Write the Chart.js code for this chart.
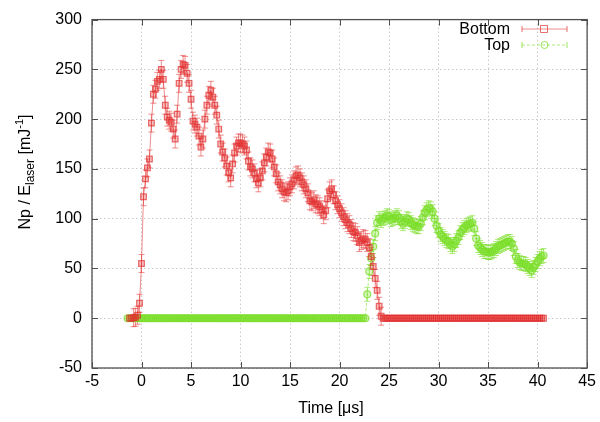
<!DOCTYPE html>
<html>
<head>
<meta charset="utf-8">
<script src="https://cdn.jsdelivr.net/npm/chart.js@4.4.1/dist/chart.umd.min.js"></script>
<style>
  body { margin: 0; background: #fff; }
  #wrap { width: 600px; height: 422px; }
</style>
</head>
<body>
<div id="wrap"><canvas id="np-canvas" width="600" height="422"></canvas></div>
<script>
// sampling of the time axis (us)
var timeStart = -1.4;
var timeStep = 0.2;

// Np / E_laser, one value per time sample
var bottomNp = [
    null, 0, 0, 0.5, 1, 3, 15, 55, 122, 140,
    151, 160, 196, 225, 230, 238, 240, 250, 240, 214,
    202, 199, 197, 190, 180, 205, 236, 250, 255, 254,
    246, 236, 220, 198, 195, 192, 183, 172, 180, 200,
    214, 224, 229, 222, 214, 204, 190, 175, 167, 161,
    153, 146, 141, 155, 166, 173, 176, 176, 175, 173,
    169, 158, 152, 150, 146, 140, 136, 141, 148, 156,
    162, 167, 166, 160, 152, 145, 137, 134, 130, 127,
    126, 128, 132, 135, 139, 143, 144, 141, 137, 134,
    130, 126, 118, 117, 119, 115, 114, 112, 109, 104,
    108, 120, 128, 130, 124, 118, 114, 110, 106, 102,
    99, 96, 94, 90, 87, 86, 83, 76, 78, 80,
    79, 76, 71, 62, 52, 40, 28, 12, 2, 0,
    0, 0, 0, 0, 0, 0, 0, 0, 0, 0,
    0, 0, 0, 0, 0, 0, 0, 0, 0, 0,
    0, 0, 0, 0, 0, 0, 0, 0, 0, 0,
    0, 0, 0, 0, 0, 0, 0, 0, 0, 0,
    0, 0, 0, 0, 0, 0, 0, 0, 0, 0,
    0, 0, 0, 0, 0, 0, 0, 0, 0, 0,
    0, 0, 0, 0, 0, 0, 0, 0, 0, 0,
    0, 0, 0, 0, 0, 0, 0, 0, 0, 0,
    0
];
var topNp = [
    0, 0, 0, 0, 0, 0, 0, 0, 0, 0,
    0, 0, 0, 0, 0, 0, 0, 0, 0, 0,
    0, 0, 0, 0, 0, 0, 0, 0, 0, 0,
    0, 0, 0, 0, 0, 0, 0, 0, 0, 0,
    0, 0, 0, 0, 0, 0, 0, 0, 0, 0,
    0, 0, 0, 0, 0, 0, 0, 0, 0, 0,
    0, 0, 0, 0, 0, 0, 0, 0, 0, 0,
    0, 0, 0, 0, 0, 0, 0, 0, 0, 0,
    0, 0, 0, 0, 0, 0, 0, 0, 0, 0,
    0, 0, 0, 0, 0, 0, 0, 0, 0, 0,
    0, 0, 0, 0, 0, 0, 0, 0, 0, 0,
    0, 0, 0, 0, 0, 0, 0, 0, 0, 0,
    0,
    24, 47, 60, 72, 85, 96, 100, 98, 100, 101,
    103, 102, 99, 100, 101, 103, 101, 97, 95, 97,
    100, 99, 96, 94, 93, 92, 92, 95, 101, 106,
    109, 111, 110, 107, 100, 93, 88, 84, 82, 80,
    78, 77, 74, 72, 74, 78, 81, 86, 89, 91,
    93, 94, 95, 96, 90, 80, 73, 71, 69, 67,
    67, 66, 66, 67, 68, 70, 72, 73, 74, 75,
    76, 77, 77, 75, 70, 62, 58, 56, 55, 55,
    54, 52, 50, 48, 51, 54, 57, 60, 62, 63
];
var bottomErr = 9;
var topErr = 7;

var xTicks = [-5, 0, 5, 10, 15, 20, 25, 30, 35, 40, 45];
var yTicks = [-50, 0, 50, 100, 150, 200, 250, 300];
var seriesNames = ['Bottom', 'Top'];

var RED = 'rgba(226, 48, 48, 0.7)';
var RED_FILL = 'rgba(226, 48, 48, 0.3)';
var RED_LINE = 'rgba(226, 48, 48, 0.55)';
var GREEN = 'rgba(120, 222, 36, 0.75)';
var GREEN_FILL = 'rgba(120, 222, 36, 0.3)';
var GREEN_LINE = 'rgba(120, 222, 36, 0.6)';
var FONT = '"Liberation Sans", Arial, Helvetica, sans-serif';

function toPoints(values) {
    var pts = [];
    for (var i = 0; i < values.length; i++) {
        if (values[i] === null) continue;
        pts.push({ x: +(timeStart + i * timeStep).toFixed(2), y: values[i] });
    }
    return pts;
}

var errors = [bottomErr, topErr];

// gnuplot-ish frame, error bars, legend and axis titles
var gnuplotBits = {
    id: 'gnuplotBits',
    beforeDatasetsDraw: function (chart) {
        var ctx = chart.ctx;
        var xs = chart.scales.x, ys = chart.scales.y;
        chart.data.datasets.forEach(function (ds, k) {
            var e = errors[k];
            ctx.save();
            ctx.strokeStyle = ds.borderColor;
            ctx.lineWidth = 1;
            ctx.beginPath();
            ds.data.forEach(function (p) {
                if (p.y <= 0) return;
                var px = xs.getPixelForValue(p.x);
                var y1 = ys.getPixelForValue(p.y + e);
                var y2 = ys.getPixelForValue(p.y - e);
                ctx.moveTo(px, y1); ctx.lineTo(px, y2);
                ctx.moveTo(px - 3, y1); ctx.lineTo(px + 3, y1);
                ctx.moveTo(px - 3, y2); ctx.lineTo(px + 3, y2);
            });
            ctx.stroke();
            ctx.restore();
        });
    },
    afterDraw: function (chart) {
        var ctx = chart.ctx;
        var a = chart.chartArea;
        var xs = chart.scales.x, ys = chart.scales.y;
        ctx.save();

        // frame
        ctx.strokeStyle = '#505050';
        ctx.lineWidth = 1.3;
        ctx.strokeRect(a.left, a.top, a.right - a.left, a.bottom - a.top);

        // inward tick marks on all four sides
        ctx.lineWidth = 1;
        ctx.beginPath();
        xTicks.forEach(function (v) {
            var px = Math.round(xs.getPixelForValue(v)) + 0.5;
            ctx.moveTo(px, a.bottom); ctx.lineTo(px, a.bottom - 6);
            ctx.moveTo(px, a.top); ctx.lineTo(px, a.top + 6);
        });
        yTicks.forEach(function (v) {
            var py = Math.round(ys.getPixelForValue(v)) + 0.5;
            ctx.moveTo(a.left, py); ctx.lineTo(a.left + 6, py);
            ctx.moveTo(a.right, py); ctx.lineTo(a.right - 6, py);
        });
        ctx.stroke();

        // legend
        ctx.font = '16px ' + FONT;
        ctx.textAlign = 'right';
        ctx.textBaseline = 'middle';
        var rows = [
            { y: 29, color: RED, line: RED_LINE, dash: [], shape: 'rect' },
            { y: 45, color: GREEN, line: GREEN_LINE, dash: [3, 2], shape: 'circle' }
        ];
        rows.forEach(function (r, i) {
            ctx.fillStyle = '#000';
            ctx.fillText(seriesNames[i], 510, r.y + 1);
            ctx.strokeStyle = r.line;
            ctx.lineWidth = 1;
            ctx.setLineDash(r.dash);
            ctx.beginPath();
            ctx.moveTo(522, r.y); ctx.lineTo(567, r.y);
            ctx.stroke();
            ctx.setLineDash([]);
            ctx.strokeStyle = r.color;
            ctx.beginPath();
            ctx.moveTo(522, r.y - 3); ctx.lineTo(522, r.y + 3);
            ctx.moveTo(567, r.y - 3); ctx.lineTo(567, r.y + 3);
            if (r.shape === 'rect') {
                ctx.rect(540.5, r.y - 3.5, 7, 7);
            } else {
                ctx.moveTo(548, r.y);
                ctx.arc(544.5, r.y, 3.5, 0, Math.PI * 2);
            }
            ctx.stroke();
        });

        // x title
        ctx.fillStyle = '#000';
        ctx.textAlign = 'center';
        ctx.textBaseline = 'middle';
        ctx.font = '16px ' + FONT;
        ctx.fillText('Time [\u03bcs]', 331, 409);

        // y title with sub/superscript
        var parts = [
            { t: 'Np / E', s: 16, dy: 0 },
            { t: 'laser', s: 12, dy: 4 },
            { t: ' [mJ', s: 16, dy: 0 },
            { t: '-1', s: 11, dy: -7 },
            { t: ']', s: 16, dy: 0 }
        ];
        var total = 0;
        parts.forEach(function (p) {
            ctx.font = p.s + 'px ' + FONT;
            p.w = ctx.measureText(p.t).width;
            total += p.w;
        });
        ctx.translate(30, 172);
        ctx.rotate(-Math.PI / 2);
        ctx.textAlign = 'left';
        ctx.textBaseline = 'alphabetic';
        var cx = -total / 2;
        parts.forEach(function (p) {
            ctx.font = p.s + 'px ' + FONT;
            ctx.fillText(p.t, cx, p.dy);
            cx += p.w;
        });
        ctx.restore();
    }
};

var ctx = document.getElementById('np-canvas');

var npChart = new Chart(ctx, {
    type: 'line',
    data: {
        datasets: [
            {
                label: seriesNames[0],
                data: toPoints(bottomNp),
                borderColor: RED_LINE,
                borderWidth: 1,
                pointStyle: 'rect',
                pointRadius: 4,
                pointBorderColor: RED,
                pointBackgroundColor: RED_FILL,
                pointBorderWidth: 1.2,
                fill: false,
                tension: 0
            },
            {
                label: seriesNames[1],
                data: toPoints(topNp),
                borderColor: GREEN_LINE,
                borderWidth: 1,
                borderDash: [3, 2],
                pointStyle: 'circle',
                pointRadius: 3.5,
                pointBorderColor: GREEN,
                pointBackgroundColor: GREEN_FILL,
                pointBorderWidth: 1.2,
                fill: false,
                tension: 0
            }
        ]
    },
    options: {
        responsive: false,
        animation: false,
        devicePixelRatio: 1,
        layout: { padding: { top: 15, right: 12, left: 0, bottom: 0 } },
        plugins: {
            legend: { display: false },
            tooltip: { enabled: false }
        },
        scales: {
            x: {
                type: 'linear',
                min: -5,
                max: 45,
                afterFit: function (s) { s.height = 54; },
                afterBuildTicks: function (s) { s.ticks = xTicks.map(function (v) { return { value: v }; }); },
                ticks: { autoSkip: false, maxRotation: 0, padding: 4, color: '#000', font: { family: FONT, size: 16 } },
                grid: { color: '#c8c8c8', lineWidth: 1, drawTicks: false },
                border: { display: false, dash: [1.5, 2.5] }
            },
            y: {
                min: -50,
                max: 300,
                afterFit: function (s) { s.width = 92; },
                afterBuildTicks: function (s) { s.ticks = yTicks.map(function (v) { return { value: v }; }); },
                ticks: { padding: 10, color: '#000', font: { family: FONT, size: 16 } },
                grid: { color: '#c8c8c8', lineWidth: 1, drawTicks: false },
                border: { display: false, dash: [1.5, 2.5] }
            }
        }
    },
    plugins: [gnuplotBits]
});
</script>
</body>
</html>
